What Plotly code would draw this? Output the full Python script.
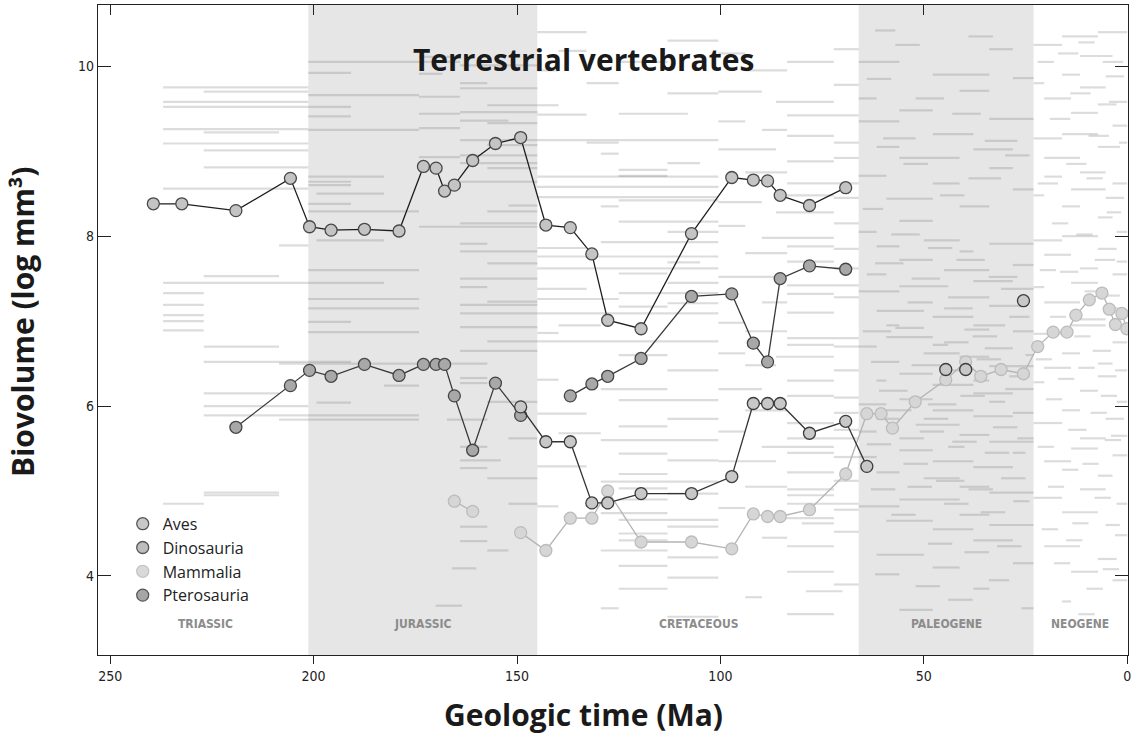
import plotly.graph_objects as go

# ---- geologic periods -------------------------------------------------------
period_names = ["TRIASSIC", "JURASSIC", "CRETACEOUS", "PALEOGENE", "NEOGENE"]
period_start = [252.0, 201.3, 145.0, 66.0, 23.03]
period_end = [201.3, 145.0, 66.0, 23.03, 0.0]
period_shaded = [False, True, False, True, False]

# ---- mean biovolume per clade, by stage (Ma, log mm^3) -----------------------
aves_age = [149.1, 142.9, 136.9, 131.6, 127.7, 119.5, 107.1, 97.2, 91.9, 88.4,
            85.3, 78.1, 69.2, 64.0, 54.0, 44.6, 42.0, 39.7, 30.0, 25.5]
aves_size = [5.99, 5.58, 5.58, 4.86, 4.86, 4.97, 4.97, 5.17, 6.03, 6.03,
             6.03, 5.68, 5.82, 5.29, None, 6.43, None, 6.43, None, 7.24]

dino_age = [239.4, 232.4, 219.1, 205.7, 201.0, 195.7, 187.5, 179.0, 173.0,
            169.9, 167.8, 165.4, 160.9, 155.3, 149.1, 142.9, 136.9, 131.6,
            127.7, 119.5, 107.1, 97.2, 91.9, 88.4, 85.3, 78.1, 69.2]
dino_size = [8.38, 8.38, 8.30, 8.68, 8.11, 8.07, 8.08, 8.06, 8.82,
             8.80, 8.53, 8.60, 8.89, 9.09, 9.16, 8.13, 8.10, 7.79,
             7.01, 6.91, 8.03, 8.69, 8.66, 8.65, 8.48, 8.36, 8.57]

mamm_age = [165.4, 160.9, 155.3, 149.1, 142.9, 136.9, 131.6, 127.7, 119.5,
            107.1, 97.2, 91.9, 88.4, 85.3, 78.1, 69.2, 64.0, 60.5, 57.7,
            52.1, 44.6, 39.7, 36.0, 31.0, 25.5, 22.0, 18.2, 14.8, 12.6,
            9.3, 6.2, 4.4, 2.9, 1.3, 0.1]
mamm_size = [4.88, 4.76, None, 4.51, 4.30, 4.68, 4.68, 5.00, 4.40,
             4.40, 4.32, 4.73, 4.70, 4.70, 4.78, 5.20, 5.91, 5.91, 5.74,
             6.05, 6.31, 6.52, 6.35, 6.43, 6.38, 6.70, 6.87, 6.87, 7.07,
             7.25, 7.33, 7.14, 6.96, 7.09, 6.91]

ptero_age = [219.1, 205.7, 201.0, 195.7, 187.5, 179.0, 173.0, 169.9, 167.8,
             165.4, 160.9, 155.3, 149.1, 142.9, 136.9, 131.6, 127.7, 119.5,
             107.1, 97.2, 91.9, 88.4, 85.3, 78.1, 69.2]
ptero_size = [5.75, 6.24, 6.42, 6.35, 6.49, 6.36, 6.49, 6.49, 6.49,
              6.12, 5.48, 6.27, 5.89, None, 6.12, 6.26, 6.35, 6.56,
              7.29, 7.32, 6.74, 6.52, 7.50, 7.65, 7.61]

# ---- genus ranges (first Ma, last Ma, log biovolume) -------------------------
triassic_ranges = [
    (237, 201.3, 9.75), (227, 201.3, 9.70), (237, 201.3, 9.58), (237, 190.8, 9.52),
    (237, 201.3, 9.26), (227, 208.5, 9.22), (237, 201.3, 9.09), (227, 201.3, 9.01),
    (227, 201.3, 8.81), (237, 201.3, 8.56), (208.5, 201.3, 7.89), (227, 208.5, 7.53),
    (237, 182.7, 7.45), (237, 227, 7.33), (237, 227, 7.19), (237, 227, 7.07),
    (237, 227, 7.00), (237, 227, 6.89), (227, 208.5, 6.70), (227, 190.8, 6.52),
    (227, 208.5, 6.15), (227, 201.3, 6.00), (227, 174.1, 5.89), (227, 208.5, 4.98),
    (227, 208.5, 4.95), (237, 227, 4.85),
]

jurassic_ranges = [
    (201.3, 174.1, 10.05), (201.3, 190.8, 9.92), (201.3, 174.1, 9.66), (201.3, 190.8, 9.41),
    (201.3, 174.1, 9.25), (201.3, 182.7, 8.70), (201.3, 190.8, 8.64), (201.3, 190.8, 8.60),
    (199.3, 182.7, 8.50), (201.3, 190.8, 8.38), (201.3, 174.1, 8.29), (199.3, 182.7, 7.95),
    (201.3, 174.1, 7.60), (201.3, 174.1, 7.26), (201.3, 174.1, 7.15), (201.3, 190.8, 6.99),
    (201.3, 174.1, 6.87), (208.5, 157.3, 6.50), (182.7, 174.1, 6.24), (199.3, 190.8, 6.04),
    (208.5, 174.1, 5.84),
    (174.1, 164.0, 10.11), (174.1, 164.0, 10.05), (164.0, 145.0, 10.01), (174.1, 168.3, 9.91),
    (164.0, 157.3, 9.80), (164.0, 145.0, 9.74), (174.1, 164.0, 9.64), (157.3, 145.0, 9.54),
    (164.0, 145.0, 9.46), (174.1, 164.0, 9.44), (157.3, 145.0, 9.33), (164.0, 152.1, 9.36),
    (174.1, 164.0, 9.27), (164.0, 145.0, 9.13), (157.3, 145.0, 9.07), (164.0, 145.0, 8.95),
    (174.1, 164.0, 8.93), (164.0, 145.0, 8.86), (157.3, 145.0, 8.80), (164.0, 145.0, 8.64),
    (152.1, 145.0, 8.36), (157.3, 145.0, 8.29), (164.0, 145.0, 8.15), (174.1, 145.0, 8.11),
    (164.0, 157.3, 7.91), (164.0, 145.0, 7.82), (157.3, 145.0, 7.68), (164.0, 145.0, 7.50),
    (164.0, 157.3, 7.40), (157.3, 145.0, 7.23), (164.0, 145.0, 7.19), (164.0, 145.0, 7.09),
    (164.0, 145.0, 6.93), (157.3, 145.0, 6.76), (164.0, 145.0, 6.65), (164.0, 157.3, 6.33),
    (164.0, 157.3, 6.27), (157.3, 145.0, 6.05), (167.2, 157.3, 5.84), (152.1, 145.0, 5.62),
    (164.0, 157.3, 5.52), (164.0, 154.0, 5.36), (164.0, 157.3, 5.27), (157.3, 145.0, 5.15),
    (152.1, 145.0, 4.85), (164.0, 157.3, 4.58), (164.0, 157.3, 4.41), (157.3, 152.1, 4.30),
    (166.0, 160.0, 4.09), (170.0, 163.5, 3.65),
]

cretaceous_ranges = [
    (145.0, 132.9, 10.40), (113.0, 100.5, 10.30), (139.8, 132.9, 10.18), (125.0, 113.0, 10.05),
    (145.0, 139.8, 9.95), (132.9, 125.0, 9.80), (113.0, 100.5, 9.68), (145.0, 139.8, 9.54),
    (125.0, 108.0, 9.44), (145.0, 132.9, 9.43), (145.0, 100.5, 9.13), (132.9, 125.0, 9.10),
    (129.4, 125.0, 8.97), (113.0, 105.0, 8.86), (125.0, 113.0, 8.78), (145.0, 100.5, 8.70),
    (125.0, 113.0, 8.71), (145.0, 100.5, 8.58), (145.0, 100.5, 8.46), (125.0, 100.5, 8.42),
    (129.4, 125.0, 8.35), (125.0, 100.5, 8.17), (113.0, 100.5, 8.05), (129.4, 100.5, 7.93),
    (145.0, 132.9, 7.86), (145.0, 100.5, 7.76), (113.0, 105.0, 7.69), (145.0, 100.5, 7.62),
    (125.0, 113.0, 7.56), (113.0, 100.5, 7.45), (145.0, 132.9, 7.38), (125.0, 100.5, 7.33),
    (145.0, 125.0, 7.26), (113.0, 100.5, 7.21), (125.0, 113.0, 7.17), (145.0, 100.5, 7.09),
    (139.8, 129.4, 6.95), (145.0, 139.8, 6.86), (145.0, 100.5, 6.76), (125.0, 113.0, 6.60),
    (113.0, 100.5, 6.42), (145.0, 139.8, 6.31), (129.4, 113.0, 6.20), (125.0, 100.5, 6.07),
    (145.0, 132.9, 5.91), (113.0, 100.5, 5.85), (125.0, 113.0, 5.76), (139.8, 129.4, 5.68),
    (129.4, 100.5, 5.60), (125.0, 113.0, 5.44), (113.0, 100.5, 5.36), (145.0, 132.9, 5.29),
    (125.0, 113.0, 5.20), (129.4, 100.5, 5.11), (125.0, 113.0, 5.03), (113.0, 100.5, 4.97),
    (125.0, 113.0, 4.90), (145.0, 139.8, 4.82), (129.4, 113.0, 4.74), (125.0, 100.5, 4.66),
    (113.0, 100.5, 4.58), (125.0, 113.0, 4.50), (125.0, 113.0, 4.42), (129.4, 113.0, 4.30),
    (113.0, 100.5, 4.22), (125.0, 113.0, 4.12), (113.0, 100.5, 3.98), (125.0, 113.0, 3.85),
    (129.4, 125.0, 3.62), (113.0, 100.5, 3.52),
    (100.5, 93.9, 10.15), (93.9, 83.6, 9.95), (83.6, 72.1, 10.05), (72.1, 66.0, 10.20),
    (100.5, 89.8, 9.70), (86.3, 72.1, 9.58), (72.1, 66.0, 9.78), (100.5, 93.9, 9.35),
    (89.8, 83.6, 9.25), (83.6, 66.0, 9.42), (100.5, 86.3, 9.02), (83.6, 72.1, 8.88),
    (72.1, 66.0, 9.10), (93.9, 83.6, 8.75), (83.6, 66.0, 8.62), (100.5, 89.8, 8.40),
    (86.3, 72.1, 8.28), (72.1, 66.0, 8.45), (100.5, 93.9, 8.12), (89.8, 72.1, 7.98),
    (72.1, 66.0, 8.15), (93.9, 83.6, 7.80), (83.6, 72.1, 7.70), (72.1, 66.0, 7.85),
    (100.5, 86.3, 7.52), (83.6, 66.0, 7.42), (89.8, 83.6, 7.22), (83.6, 72.1, 7.10),
    (72.1, 66.0, 7.28), (100.5, 93.9, 6.98), (93.9, 83.6, 6.88), (83.6, 66.0, 6.80),
    (100.5, 93.9, 6.62), (93.9, 86.3, 6.48), (86.3, 72.1, 6.58), (72.1, 66.0, 6.70),
    (100.5, 89.8, 6.20), (83.6, 72.1, 6.30), (72.1, 66.0, 6.10), (93.9, 83.6, 5.95),
    (83.6, 72.1, 5.80), (72.1, 66.0, 5.92), (100.5, 93.9, 5.70), (89.8, 72.1, 5.52),
    (83.6, 66.0, 5.62), (100.5, 86.3, 5.35), (83.6, 72.1, 5.22), (72.1, 66.0, 5.40),
    (93.9, 83.6, 5.05), (83.6, 72.1, 4.95), (72.1, 66.0, 5.12), (100.5, 93.9, 4.80),
    (86.3, 72.1, 4.68), (83.6, 66.0, 4.85), (89.8, 83.6, 4.45), (83.6, 72.1, 4.35),
    (72.1, 66.0, 4.52), (83.6, 72.1, 4.05), (72.1, 66.0, 3.90), (93.9, 89.8, 3.75),
    (83.6, 72.1, 3.55), (83.6, 72.1, 9.18), (83.6, 72.1, 8.48), (83.6, 72.1, 7.88),
    (83.6, 72.1, 7.32), (83.6, 72.1, 6.72), (83.6, 72.1, 6.12), (83.6, 72.1, 5.45),
    (83.6, 72.1, 5.02), (80.0, 72.1, 4.62), (79.0, 70.0, 3.82), (72.1, 66.0, 8.92),
    (72.1, 66.0, 7.62), (72.1, 66.0, 6.42), (72.1, 66.0, 5.72), (72.1, 66.0, 4.78),
]

paleogene_ranges = [
    (66.0, 56.0, 10.05), (47.8, 33.9, 9.90), (33.9, 28.1, 10.20), (66.0, 61.6, 9.62),
    (66.0, 56.0, 9.35), (61.6, 56.0, 9.05), (56.0, 47.8, 9.48), (56.0, 41.2, 8.92),
    (47.8, 37.8, 9.20), (41.2, 33.9, 9.71), (37.8, 28.1, 9.02), (33.9, 23.0, 9.38),
    (28.1, 23.0, 9.86), (66.0, 59.2, 8.71), (59.2, 47.8, 8.44), (56.0, 47.8, 8.18),
    (47.8, 41.2, 8.62), (41.2, 33.9, 8.35), (33.9, 28.1, 8.80), (28.1, 23.0, 8.55),
    (66.0, 61.6, 8.05), (61.6, 56.0, 7.88), (56.0, 47.8, 7.72), (50.0, 41.2, 7.95),
    (45.0, 33.9, 7.60), (41.2, 37.8, 7.82), (37.8, 28.1, 7.47), (33.9, 23.0, 7.91),
    (28.1, 23.0, 7.66), (64.0, 59.2, 7.55), (66.0, 56.0, 7.35), (61.6, 50.0, 7.12),
    (56.0, 44.0, 7.41), (54.0, 47.8, 7.22), (47.8, 37.8, 7.05), (44.0, 33.9, 7.28),
    (31.0, 23.0, 7.38), (37.8, 30.0, 6.95), (33.9, 26.0, 7.18), (28.1, 23.0, 6.88),
    (59.2, 56.0, 6.95), (40.0, 33.9, 6.90), (47.8, 44.0, 6.72), (35.0, 28.1, 6.68),
    (66.0, 61.6, 6.70), (63.0, 56.0, 6.52), (59.2, 47.8, 6.81), (56.0, 47.8, 6.38),
    (50.0, 41.2, 6.62), (44.0, 37.8, 6.42), (47.8, 37.8, 6.25), (41.2, 33.9, 6.58),
    (25.0, 23.0, 6.60), (37.8, 28.1, 6.15), (33.9, 23.0, 6.47), (30.0, 23.0, 6.20),
    (61.6, 59.2, 6.30), (37.8, 33.9, 6.30), (33.9, 30.0, 6.05), (66.0, 59.2, 6.02),
    (61.6, 56.0, 5.85), (56.0, 47.8, 6.08), (52.0, 41.2, 5.78), (47.8, 37.8, 5.95),
    (50.0, 44.0, 5.85), (66.0, 61.6, 5.70), (56.0, 50.0, 5.62), (41.2, 33.9, 5.66),
    (44.0, 40.0, 5.52), (37.8, 28.1, 5.88), (33.9, 23.0, 5.58), (28.1, 23.0, 5.92),
    (28.1, 25.0, 5.45), (66.0, 61.6, 5.40), (61.6, 56.0, 5.22), (56.0, 47.8, 5.48),
    (50.0, 41.2, 5.15), (47.8, 37.8, 5.35), (41.2, 33.9, 5.05), (37.8, 28.1, 5.28),
    (33.9, 23.0, 4.98), (66.0, 56.0, 4.82), (59.2, 47.8, 4.65), (56.0, 41.2, 4.90),
    (47.8, 37.8, 4.55), (41.2, 33.9, 4.72), (37.8, 28.1, 4.42), (33.9, 23.0, 4.60),
    (61.6, 50.0, 4.25), (47.8, 41.2, 4.10), (37.8, 33.9, 3.85), (28.1, 23.0, 4.15),
    (56.0, 47.8, 3.60), (41.2, 37.8, 3.45),
    (64.0, 58.0, 9.85), (60.0, 52.0, 9.15), (55.0, 49.0, 8.85), (52.0, 45.0, 9.62),
    (46.0, 40.0, 8.48), (43.0, 36.0, 9.44), (39.0, 31.0, 8.68), (35.0, 27.0, 9.12),
    (30.0, 24.0, 8.95), (65.0, 60.0, 8.32), (62.0, 55.0, 7.68), (58.0, 51.0, 8.02),
    (53.0, 46.0, 7.50), (49.0, 43.0, 7.86), (45.0, 38.0, 7.15), (42.0, 35.0, 7.72),
    (38.0, 32.0, 6.82), (34.0, 27.0, 7.52), (29.0, 24.0, 7.05), (65.0, 58.0, 6.88),
    (61.0, 54.0, 6.18), (57.0, 50.0, 6.92), (53.0, 46.0, 6.48), (49.0, 42.0, 6.02),
    (45.0, 39.0, 6.75), (41.0, 35.0, 6.12), (37.0, 31.0, 6.55), (33.0, 27.0, 5.75),
    (29.0, 24.0, 6.35), (64.0, 58.0, 5.55), (60.0, 53.0, 5.95), (55.0, 49.0, 5.32),
    (51.0, 45.0, 5.70), (47.0, 40.0, 5.12), (43.0, 37.0, 5.58), (39.0, 33.0, 5.02),
    (35.0, 29.0, 5.45), (31.0, 25.0, 5.15), (27.0, 23.0, 5.62), (63.0, 57.0, 5.02),
    (58.0, 52.0, 4.72), (54.0, 48.0, 5.05), (49.0, 43.0, 4.38), (45.0, 39.0, 4.85),
    (40.0, 34.0, 4.28), (36.0, 30.0, 4.75), (32.0, 26.0, 4.35), (28.0, 24.0, 4.88),
    (62.0, 56.0, 4.02), (52.0, 46.0, 3.88), (44.0, 38.0, 3.72), (34.0, 29.0, 3.95),
    (26.0, 23.0, 3.62), (57.0, 51.0, 10.25), (39.0, 33.0, 10.35), (62.0, 57.0, 10.42),
]

neogene_ranges = [
    (23.0, 16.0, 10.25), (16.0, 7.2, 10.35), (11.6, 3.6, 10.12), (7.2, 0.0, 10.40),
    (23.0, 20.4, 9.80), (20.4, 13.8, 9.62), (16.0, 11.6, 9.90), (13.8, 7.2, 9.45),
    (11.6, 5.3, 9.75), (7.2, 2.6, 9.55), (5.3, 0.8, 9.88), (3.6, 0.0, 9.30),
    (23.0, 16.0, 9.15), (20.4, 11.6, 8.92), (16.0, 7.2, 9.20), (11.6, 5.3, 8.75),
    (7.2, 1.8, 9.05), (3.6, 0.0, 8.62), (23.0, 20.4, 8.48), (20.4, 16.0, 8.70),
    (16.0, 11.6, 8.35), (13.8, 5.3, 8.55), (7.2, 3.6, 8.22), (5.3, 0.8, 8.45),
    (2.6, 0.0, 8.05), (23.0, 16.0, 7.95), (20.4, 13.8, 7.78), (16.0, 7.2, 8.00),
    (11.6, 7.2, 7.62), (7.2, 2.6, 7.85), (3.6, 0.0, 7.55), (23.0, 20.4, 7.40),
    (20.4, 11.6, 7.22), (13.8, 7.2, 7.45), (11.6, 5.3, 7.02), (5.3, 1.8, 7.30),
    (2.6, 0.0, 7.70), (23.0, 16.0, 6.85), (16.0, 11.6, 6.62), (13.8, 5.3, 6.95),
    (7.2, 3.6, 6.50), (3.6, 0.0, 6.75), (23.0, 20.4, 6.28), (20.4, 13.8, 6.45),
    (11.6, 7.2, 6.18), (7.2, 2.6, 6.35), (2.6, 0.0, 6.05), (23.0, 16.0, 5.80),
    (16.0, 11.6, 5.95), (11.6, 5.3, 5.62), (5.3, 0.8, 5.85), (20.4, 13.8, 5.35),
    (13.8, 7.2, 5.50), (7.2, 3.6, 5.18), (3.6, 0.0, 5.42), (23.0, 16.0, 4.92),
    (16.0, 7.2, 4.75), (11.6, 5.3, 5.02), (5.3, 1.8, 4.60), (2.6, 0.0, 4.85),
    (20.4, 11.6, 4.35), (7.2, 2.6, 4.20), (3.6, 0.0, 3.95), (13.8, 7.2, 4.05),
    (16.0, 13.8, 3.70),
    (22.0, 18.0, 10.05), (19.0, 14.0, 9.38), (17.0, 12.0, 10.15), (14.0, 9.0, 9.68),
    (12.0, 8.0, 10.28), (9.5, 4.5, 9.18), (6.0, 1.0, 10.05), (4.5, 0.0, 9.58),
    (22.0, 17.0, 8.62), (18.5, 14.5, 8.15), (15.0, 10.0, 8.85), (12.5, 8.5, 8.02),
    (10.0, 6.0, 8.68), (8.0, 3.0, 7.72), (5.0, 1.5, 8.28), (2.0, 0.0, 9.10),
    (21.5, 17.5, 7.60), (19.0, 15.0, 7.05), (16.5, 12.0, 7.58), (13.0, 9.0, 6.82),
    (10.5, 6.5, 7.35), (8.5, 4.0, 6.65), (6.0, 2.0, 7.15), (3.0, 0.0, 6.42),
    (22.5, 18.5, 6.55), (20.0, 16.0, 6.08), (17.0, 13.0, 6.32), (14.5, 10.0, 5.72),
    (12.0, 8.0, 6.45), (9.0, 5.0, 5.92), (6.5, 2.5, 6.12), (4.0, 0.0, 5.65),
    (22.0, 18.0, 5.52), (19.5, 15.5, 5.05), (16.0, 12.0, 5.25), (13.5, 9.5, 4.62),
    (11.0, 7.0, 5.32), (8.0, 4.0, 4.92), (5.5, 1.5, 5.60), (3.0, 0.0, 4.48),
    (21.0, 17.0, 4.55), (18.0, 14.0, 4.15), (15.0, 11.0, 4.42), (10.0, 6.0, 3.85),
    (6.0, 2.0, 4.08), (12.0, 8.0, 3.55),
]

FONT = "Open Sans, Lato, sans-serif"
NARROW = "Liberation Sans Narrow, DejaVu Sans Condensed, Open Sans, sans-serif"

fig = go.Figure()

# period bands and their names along the bottom
for name, start, end, shaded in zip(period_names, period_start, period_end, period_shaded):
    if shaded:
        fig.add_vrect(x0=start, x1=end, fillcolor="#e6e6e7", line_width=0, layer="below")
    fig.add_annotation(x=(start + end) / 2, y=0.034, xref="x", yref="paper",
                       text=f"<b>{name}</b>", showarrow=False,
                       font=dict(family=NARROW, size=12, color="#8c8c8c"))

# genus ranges as faint horizontal strokes
bx, by = [], []
for start, end, size in (triassic_ranges + jurassic_ranges + cretaceous_ranges
                         + paleogene_ranges + neogene_ranges):
    bx += [start, end, None]
    by += [size, size, None]
fig.add_trace(go.Scatter(x=bx, y=by, mode="lines", hoverinfo="skip", showlegend=False,
                         line=dict(color="rgba(110,110,110,0.24)", width=2.2)))

clades = [
    ("Mammalia", mamm_age, mamm_size, "#d6d6d6", "#bcbcbc", "#b4b4b4"),
    ("Pterosauria", ptero_age, ptero_size, "#a8a8a8", "#454545", "#3a3a3a"),
    ("Aves", aves_age, aves_size, "#c8c8c8", "#3c3c3c", "#333333"),
    ("Dinosauria", dino_age, dino_size, "#c4c4c4", "#484848", "#1e1e1e"),
]
for name, age, size, fill, edge, line in clades:
    fig.add_trace(go.Scatter(
        x=age, y=size, mode="lines+markers", name=name, showlegend=False,
        connectgaps=False,
        line=dict(color=line, width=1.3),
        marker=dict(size=12, color=fill, line=dict(color=edge, width=1.3)),
    ))

# legend entries (markers only)
legend_style = {
    "Aves": ("#c8c8c8", "#555555"),
    "Dinosauria": ("#bdbdbd", "#555555"),
    "Mammalia": ("#d9d9d9", "#c4c4c4"),
    "Pterosauria": ("#a6a6a6", "#555555"),
}
for name, (fill, edge) in legend_style.items():
    fig.add_trace(go.Scatter(x=[None], y=[None], mode="markers", name=name,
                             marker=dict(size=12, color=fill, line=dict(color=edge, width=1.3))))

# top axis carrying the inward ticks
fig.add_trace(go.Scatter(x=[None], y=[None], xaxis="x2", showlegend=False, hoverinfo="skip"))

# chart title and axis titles
fig.add_annotation(x=0.471, y=0.951, xref="paper", yref="paper",
                   text="<b>Terrestrial vertebrates</b>", showarrow=False,
                   font=dict(family=FONT, size=30, color="#1a1a1a"))
fig.add_annotation(x=0.471, y=-0.091, xref="paper", yref="paper", yanchor="middle",
                   text="<b>Geologic time (Ma)</b>", showarrow=False,
                   font=dict(family=FONT, size=30, color="#1a1a1a"))
fig.add_annotation(x=-0.074, y=0.512, xref="paper", yref="paper", xanchor="center",
                   yanchor="middle", textangle=-90,
                   text="<b>Biovolume (log mm³)</b>", showarrow=False,
                   font=dict(family=FONT, size=30, color="#1a1a1a"))

XR = [253, -0.2]
fig.update_layout(
    width=1139, height=738,
    margin=dict(l=98, r=11, t=5, b=83),
    paper_bgcolor="white", plot_bgcolor="white",
    font=dict(family=FONT, color="#222222"),
    xaxis=dict(range=XR, tickvals=[250, 200, 150, 100, 50, 0], ticks="outside",
               ticklen=8, tickwidth=1.2, tickcolor="#222", showline=True,
               linecolor="#222", linewidth=1.3, showgrid=False, zeroline=False,
               tickfont=dict(family=NARROW, size=14, color="#222")),
    xaxis2=dict(range=XR, overlaying="x", side="top", anchor="y",
                tickvals=[250, 200, 150, 100, 50, 0], ticks="inside", ticklen=10,
                tickwidth=1.2, tickcolor="#222", showticklabels=False, showline=True,
                linecolor="#222", linewidth=1.3, showgrid=False, zeroline=False),
    yaxis=dict(range=[3.07, 10.72], tickvals=[4, 6, 8, 10], ticks="inside", ticklen=13,
               tickwidth=1.2, tickcolor="#222", showline=True, mirror="ticks",
               linecolor="#222", linewidth=1.3, showgrid=False, zeroline=False,
               tickfont=dict(family=NARROW, size=14, color="#222")),
    legend=dict(x=0.024, y=0.228, xanchor="left", yanchor="top",
                bgcolor="rgba(0,0,0,0)", font=dict(family=FONT, size=16, color="#222"),
                itemwidth=30, tracegroupgap=2),
)

fig.write_html("out.html")
